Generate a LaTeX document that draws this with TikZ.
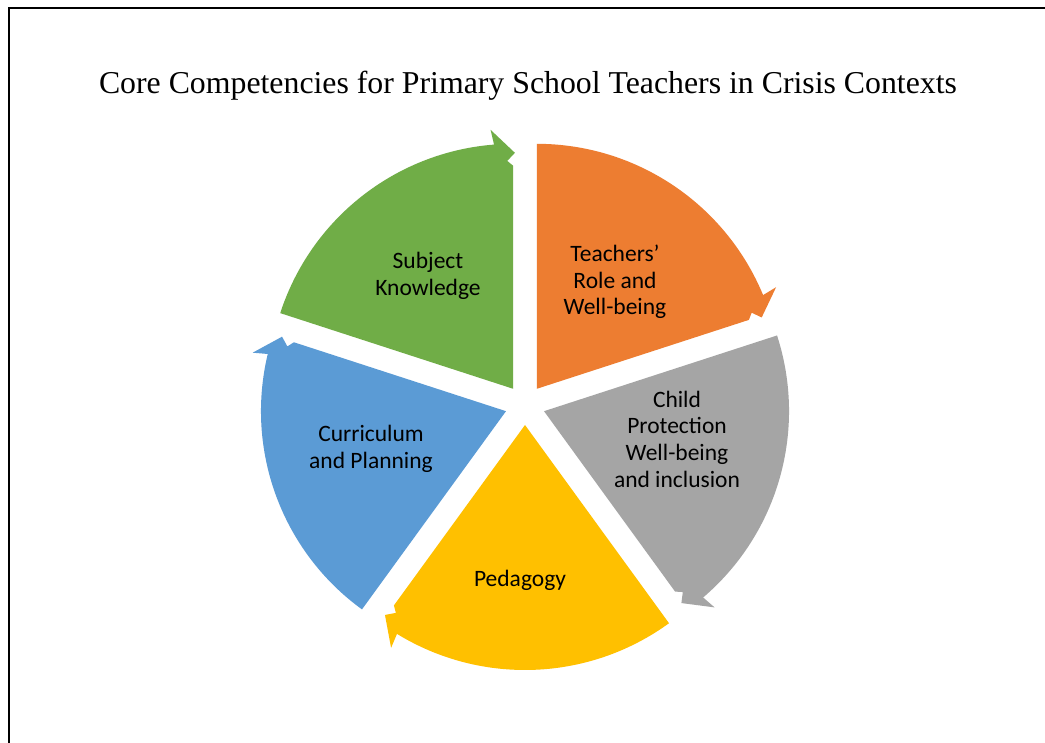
\documentclass[tikz,border=0pt]{standalone}
\usepackage{fontspec}
\setmainfont{Liberation Serif}
\newfontfamily\labelfont{Carlito}
\definecolor{kgreen}{HTML}{70AD47}
\definecolor{korange}{HTML}{ED7D31}
\definecolor{kgray}{HTML}{A5A5A5}
\definecolor{kyellow}{HTML}{FFC000}
\definecolor{kblue}{HTML}{5B9BD5}
% one wedge of the segmented cycle: #1 = clockwise end angle, #2 = colour
\newcommand\cyclepiece[2]{%
  \begin{scope}[shift={(O)}, shift={(#1+36:20)}]
    \fill[#2] (0,0) -- (#1:\R-22) -- (#1+1.5:\R-17) -- (#1-0.4:\R-9)
      -- (#1+5:\R+15) -- (#1+4.5:\R)
      arc[start angle=#1+4.5, end angle=#1+72, radius=\R] -- cycle;
  \end{scope}}
\begin{document}
\begin{tikzpicture}[x=1pt,y=1pt,
  lbl/.style={font=\labelfont\fontsize{23.5}{26.7}\selectfont, align=center, text=black},
  ttl/.style={font=\fontsize{31.8}{36}\selectfont, anchor=base}]
\useasboundingbox (0,0) rectangle (1045,-743);
\fill[white] (0,0) rectangle (1045,-743);
\draw[line width=2.2pt] (9,-743) -- (9,-8) -- (1045,-8);
\node[ttl] (title) at (528,-94) {Core Competencies for Primary School Teachers in Crisis Contexts};
\coordinate (O) at (525,-405);
\def\R{245}
\cyclepiece{90}{kgreen}
\cyclepiece{18}{korange}
\cyclepiece{-54}{kgray}
\cyclepiece{-126}{kyellow}
\cyclepiece{162}{kblue}
\node[lbl] (subject) at (428,-276) {Subject\\Knowledge};
\node[lbl] (teachers) at (615,-282) {Teachers’\\Role and\\Well-being};
\node[lbl] (child) at (677,-439) {Child\\Protection\\Well-being\\and inclusion};
\node[lbl] (pedagogy) at (520,-580) {Pedagogy};
\node[lbl] (curriculum) at (371,-449) {Curriculum\\and Planning};
\end{tikzpicture}
\end{document}
